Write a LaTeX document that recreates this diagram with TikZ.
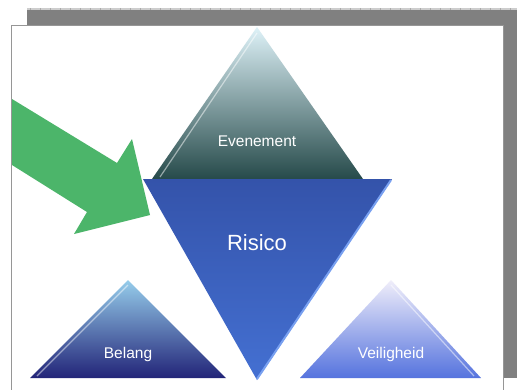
\documentclass[tikz,border=0pt]{standalone}
\usepackage{fontspec}
\setmainfont{Liberation Sans}
\usetikzlibrary{positioning, calc}

\definecolor{pagegray}{RGB}{128,128,128}
\definecolor{rulergray}{RGB}{205,205,205}
\definecolor{tickgray}{RGB}{170,170,170}
\definecolor{bordergray}{RGB}{150,150,150}
\definecolor{arrowgreen}{RGB}{76,181,106}
\definecolor{eventtop}{RGB}{222,242,248}
\definecolor{eventmid}{RGB}{125,165,172}
\definecolor{eventbot}{RGB}{38,74,74}
\definecolor{risktop}{RGB}{52,83,170}
\definecolor{riskbot}{RGB}{68,112,210}
\definecolor{riskedge}{RGB}{120,160,240}
\definecolor{belangtop}{RGB}{150,205,235}
\definecolor{belangmid}{RGB}{90,130,195}
\definecolor{belangbot}{RGB}{34,36,120}
\definecolor{safetop}{RGB}{240,238,250}
\definecolor{safemid}{RGB}{145,198,245}
\definecolor{safebot}{RGB}{85,115,222}

\begin{document}
\begin{tikzpicture}[x=1pt,y=-1pt]
	\tikzset{tekst/.style={text=white, inner sep=0pt, anchor=base, font=\fontsize{15.5}{18}\selectfont},
		bevel/.style={draw=white, draw opacity=0.5, line width=1.2pt} }

	\useasboundingbox (0,0) rectangle (517,389);

	% sheet behind the page
	\fill[pagegray] (27,8) rectangle (517,378);
	\fill[rulergray] (27,8) rectangle (517,10);
	\foreach \x in {30,40,...,510}
		\draw[tickgray, line width=0.8pt] (\x,8) -- (\x,10);
	\filldraw[fill=white, draw=bordergray] (11,25) rectangle (503,392);

	% corners
	\coordinate (e1) at (257,27);  \coordinate (e2) at (152,179); \coordinate (e3) at (363,179);
	\coordinate (r1) at (143,179); \coordinate (r2) at (392,179); \coordinate (r3) at (257,380);
	\coordinate (b1) at (128,280); \coordinate (b2) at (30,378);  \coordinate (b3) at (226,378);
	\coordinate (v1) at (391,280); \coordinate (v2) at (300,378); \coordinate (v3) at (481,378);

	% triangles
	\shade[top color=eventtop, middle color=eventmid, bottom color=eventbot] (e1) -- (e2) -- (e3) -- cycle;
	\draw[bevel] ($(e1)+(0,6)$) -- ($(e2)+(8,-2)$);
	\shade[top color=risktop, bottom color=riskbot] (r1) -- (r2) -- (r3) -- cycle;
	\draw[riskedge, line width=2pt] ($(r2)+(-1,1)$) -- ($(r3)+(0,-1)$);
	\shade[top color=belangtop, middle color=belangmid, bottom color=belangbot] (b1) -- (b2) -- (b3) -- cycle;
	\draw[bevel] ($(b1)+(0,5)$) -- ($(b2)+(7,-2)$);
	\shade[top color=safetop, middle color=safemid, bottom color=safebot] (v1) -- (v2) -- (v3) -- cycle;
	\draw[bevel] ($(v1)+(0,5)$) -- ($(v3)+(-7,-2)$);

	% arrow
	\fill[arrowgreen] (12,99) -- (117,163) -- (132,139) -- (150,215) -- (74,234) -- (87,212) -- (12,165) -- cycle;

	% labels
	\node[tekst] (evenement) at (257,146) {Evenement};
	\node[tekst, font=\fontsize{22}{26}\selectfont] (risico) at (257,250) {Risico};
	\node[tekst] (belang) at (128,358) {Belang};
	\node[tekst] (veiligheid) at (391,358) {Veiligheid};
\end{tikzpicture}
\end{document}
